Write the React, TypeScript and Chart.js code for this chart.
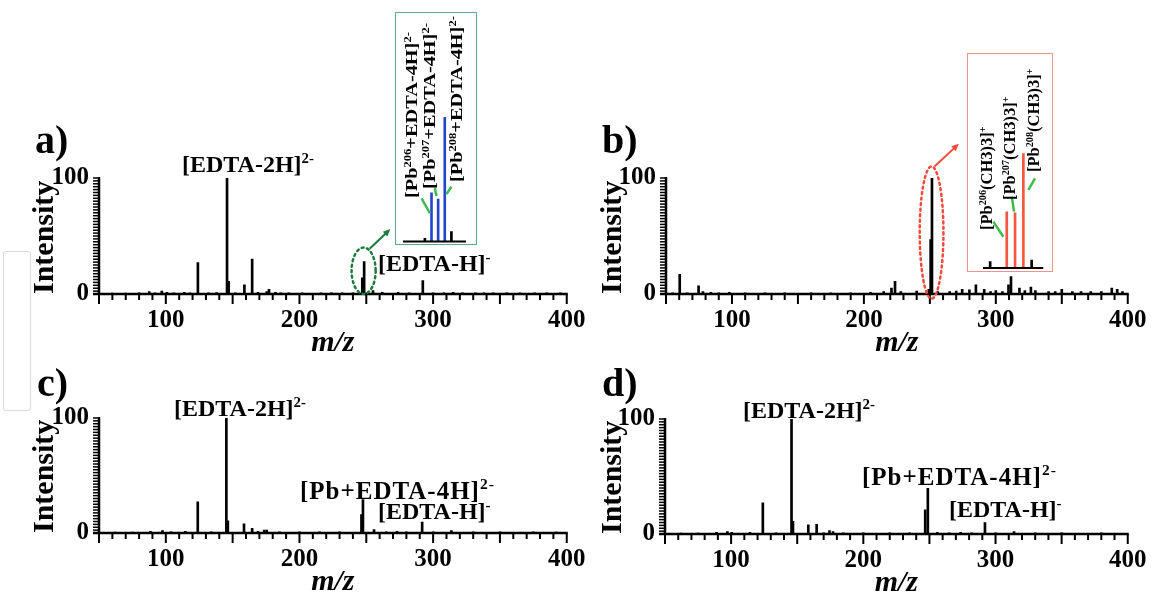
import React, { useEffect, useRef } from 'react';
import { Chart, registerables } from 'chart.js';

Chart.register(...registerables);

const SERIF = '"Liberation Serif", "Times New Roman", Times, serif';

// ---------------- data ----------------
const xTickValues = [100, 200, 300, 400];
const yTickValues = [0, 100];
const xRange = [50, 400];
const yRange = [0, 100];
const xMinorStep = 10;
const xMajorStep = 50;
const yMinorStep = 2.5;

// panel a: m/z, relative intensity
const peaksA: number[][] = [
  [60, 0.8], [70, 0.8], [80, 1], [87.6, 2], [92, 1], [97, 2.5], [100.8, 1.5], [106, 1], [113.8, 1.5], [118, 1],
  [124, 27], [132, 1], [138, 1.2], [145.8, 100], [147, 11], [152, 1], [158.8, 8], [164.6, 30], [169, 1.5], [175.6, 2],
  [177.2, 4], [182, 1.5], [186, 1], [192, 1], [202, 1], [216, 1], [224, 1], [232, 1], [240, 1], [247, 14],
  [248.4, 28], [255, 3], [262, 1.5], [273.8, 1.5], [282, 1], [292.3, 11.5], [300, 1], [308, 1], [315, 1.5], [322, 1],
  [331.7, 1], [338, 1], [345, 1], [355, 1], [365, 1], [375.9, 1], [385, 1], [395, 1],
];

// panel b
const peaksB: number[][] = [
  [55, 1], [60.4, 17], [66, 1], [74.7, 7], [78, 2], [84, 1.5], [90, 1], [98, 1.5], [110, 1], [125, 1],
  [140, 1], [160, 1], [175, 1], [190, 1], [205, 1.5], [215, 2], [220.9, 5], [223.6, 11], [228, 2], [240, 2.5],
  [249.2, 4], [250.6, 47], [251.6, 100], [256, 2], [265, 2], [270, 2.5], [274.5, 4], [280, 3.5], [284.9, 8], [291.2, 4],
  [296, 2], [300, 3], [305, 2], [309.6, 8], [311.5, 15], [317.9, 5], [322, 3], [326.6, 6], [330, 3], [340, 2],
  [345, 2], [350, 4], [358, 2], [364.6, 2], [372, 2], [380, 2], [387.9, 5], [392, 4], [396, 2],
];

// panel c
const peaksC: number[][] = [
  [62, 0.8], [75, 0.8], [88.5, 1.5], [97.5, 2], [104, 1], [114.6, 1.5], [123.9, 27], [134, 1], [145.3, 100], [146.4, 10.6],
  [158.5, 8], [164.6, 4], [169, 1.5], [173.6, 2.5], [175.5, 2.5], [185, 1], [200, 1], [215, 1], [230, 1], [246.4, 16],
  [247.5, 29], [255.8, 3], [265, 1], [273, 1.5], [280, 1], [291.8, 9.5], [300, 1], [313.7, 2], [330, 1], [350, 1],
  [375, 1], [392, 0.8],
];

// panel d
const peaksD: number[][] = [
  [62, 0.8], [75, 0.8], [89, 1.5], [97.2, 2], [100.5, 1.5], [114.3, 1.5], [124, 27], [134, 1], [145.7, 100], [146.8, 11],
  [158.4, 8], [164.7, 8.4], [170, 1], [174.4, 3], [177.1, 2], [185, 1], [200, 1], [220, 1], [235, 1], [246.8, 21],
  [248.8, 39.7], [256, 1.5], [265, 1], [273.6, 1.5], [282, 1], [292, 10], [300, 1], [314, 2], [330, 1], [350, 1],
  [380, 1],
];

// inset a (Pb-EDTA isotope cluster)
const insetMzA = [246.5, 247, 247.5, 248, 248.5];
const insetIntA = [2.5, 39, 34, 100, 8];
const insetIsoA = [false, true, true, true, false];

// inset b (trimethyl lead isotope cluster)
const insetMzB = [249, 251, 252, 253, 254];
const insetIntB = [5.5, 49, 48, 100, 7];
const insetIsoB = [false, true, true, true, false];

// ---------------- layout / style ----------------
const geoA = { left: 0, top: 120, width: 600, height: 250, areaL: 99, areaR: 570, areaT: 178, areaB: 294, yTitleX: 45, tickDy: 27, mzY: 343 };
const geoB = { left: 580, top: 120, width: 581, height: 250, areaL: 666, areaR: 1137, areaT: 178, areaB: 294, yTitleX: 613, tickDy: 27, mzY: 343 };
const geoC = { left: 0, top: 360, width: 600, height: 250, areaL: 99, areaR: 570, areaT: 418, areaB: 533, yTitleX: 45, tickDy: 27, mzY: 582 };
const geoD = { left: 580, top: 360, width: 581, height: 250, areaL: 665, areaR: 1136, areaT: 419, areaB: 534, yTitleX: 613, tickDy: 27, mzY: 583 };

const annotA = { cx: 248, cy: 20, rx: 9, ry: 20, from: [252.5, 39], to: [268, 56], color: '#1d7a3e' };
const annotB = { cx: 251.3, cy: 53, rx: 9, ry: 57, from: [253.5, 110], to: [272, 129.5], color: '#f24b3c' };

const insetGeoA = { left: 395, top: 12, width: 82, height: 233, areaL: 403, areaR: 466, areaT: 117, areaB: 241.5, xMin: 244.85, xMax: 249.6, border: '#5aa98c' };
const insetGeoB = { left: 967, top: 53, width: 86, height: 219, areaL: 983, areaR: 1043.3, areaT: 153.3, areaB: 268, xMin: 248.14, xMax: 255.4, border: '#eb958f' };

const leadersA = [
  [[246.25, 34.7], [246.88, 22.7]],
  [[247.25, 43], [247.38, 36.5]],
  [[248.5, 44], [248.13, 38.2]],
];
const leadersB = [
  [[249.38, 40.4], [250.59, 27.3]],
  [[251.6, 62.2], [251.88, 49.1]],
  [[254.4, 78.2], [253.6, 68]],
];

const BLUE = '#2347c9';
const RED = '#f4573f';
const GREEN = '#3dbb4f';

// ---------------- plugins ----------------
const axesPlugin = {
  id: 'axesDraw',
  afterDatasetsDraw(chart: any) {
    const { ctx } = chart;
    const x = chart.scales.x;
    const y = chart.scales.y;
    const yb = y.getPixelForValue(yRange[0]);
    const yt = y.getPixelForValue(yRange[1]);
    const xl = x.getPixelForValue(xRange[0]);
    const xr = x.getPixelForValue(xRange[1]);
    ctx.save();
    ctx.strokeStyle = '#000';
    ctx.lineWidth = 2;
    for (let v = xRange[0]; v <= xRange[1] + 0.001; v += xMinorStep) {
      const p = x.getPixelForValue(v);
      const len = Math.abs(v % xMajorStep) < 0.001 ? 10 : 6;
      ctx.beginPath();
      ctx.moveTo(p, yb);
      ctx.lineTo(p, yb + len);
      ctx.stroke();
    }
    ctx.lineWidth = 1.5;
    for (let v = yRange[0]; v <= yRange[1] + 0.001; v += yMinorStep) {
      const p = y.getPixelForValue(v);
      ctx.beginPath();
      ctx.moveTo(xl - 6, p);
      ctx.lineTo(xl, p);
      ctx.stroke();
    }
    ctx.lineWidth = 2.5;
    ctx.beginPath();
    ctx.moveTo(xl, yt - 1);
    ctx.lineTo(xl, yb);
    ctx.moveTo(xl - 6, yb);
    ctx.lineTo(xr + 1, yb);
    ctx.stroke();
    ctx.restore();
  },
};

function drawArrow(ctx: CanvasRenderingContext2D, x1: number, y1: number, x2: number, y2: number, color: string) {
  const ang = Math.atan2(y2 - y1, x2 - x1);
  const head = 8;
  ctx.strokeStyle = color;
  ctx.fillStyle = color;
  ctx.lineWidth = 2;
  ctx.beginPath();
  ctx.moveTo(x1, y1);
  ctx.lineTo(x2 - Math.cos(ang) * head * 0.8, y2 - Math.sin(ang) * head * 0.8);
  ctx.stroke();
  ctx.beginPath();
  ctx.moveTo(x2, y2);
  ctx.lineTo(x2 - head * Math.cos(ang - 0.42), y2 - head * Math.sin(ang - 0.42));
  ctx.lineTo(x2 - head * Math.cos(ang + 0.42), y2 - head * Math.sin(ang + 0.42));
  ctx.closePath();
  ctx.fill();
}

function makeAnnotPlugin(a: any) {
  return {
    id: 'annotDraw',
    afterDraw(chart: any) {
      const { ctx } = chart;
      const x = chart.scales.x;
      const y = chart.scales.y;
      const cx = x.getPixelForValue(a.cx);
      const cy = y.getPixelForValue(a.cy);
      const rx = Math.abs(x.getPixelForValue(a.cx + a.rx) - cx);
      const ry = Math.abs(y.getPixelForValue(a.cy + a.ry) - cy);
      ctx.save();
      ctx.strokeStyle = a.color;
      ctx.lineWidth = 2.5;
      ctx.setLineDash([2, 3.5]);
      ctx.lineCap = 'round';
      ctx.beginPath();
      ctx.ellipse(cx, cy, rx, ry, 0, 0, Math.PI * 2);
      ctx.stroke();
      ctx.setLineDash([]);
      ctx.lineCap = 'butt';
      drawArrow(ctx, x.getPixelForValue(a.from[0]), y.getPixelForValue(a.from[1]), x.getPixelForValue(a.to[0]), y.getPixelForValue(a.to[1]), a.color);
      ctx.restore();
    },
  };
}

function makeInsetPlugin(leaders: number[][][]) {
  return {
    id: 'insetDraw',
    afterDatasetsDraw(chart: any) {
      const { ctx, chartArea } = chart;
      const x = chart.scales.x;
      const y = chart.scales.y;
      ctx.save();
      ctx.strokeStyle = '#000';
      ctx.lineWidth = 2;
      ctx.beginPath();
      ctx.moveTo(chartArea.left, chartArea.bottom);
      ctx.lineTo(chartArea.right, chartArea.bottom);
      ctx.stroke();
      ctx.strokeStyle = GREEN;
      ctx.lineWidth = 2.5;
      for (const [p, q] of leaders) {
        ctx.beginPath();
        ctx.moveTo(x.getPixelForValue(p[0]), y.getPixelForValue(p[1]));
        ctx.lineTo(x.getPixelForValue(q[0]), y.getPixelForValue(q[1]));
        ctx.stroke();
      }
      ctx.restore();
    },
  };
}

function buildPanelConfig(peaks: number[][], geo: any, annot: any) {
  const padTop = geo.areaT - geo.top;
  const padRight = geo.left + geo.width - geo.areaR;
  const yWidth = geo.areaL - geo.left;
  const xHeight = geo.top + geo.height - geo.areaB;
  const tickSize = 25;
  const titleSize = 30;
  const plugins: any[] = [axesPlugin];
  if (annot) plugins.push(makeAnnotPlugin(annot));
  return {
    type: 'bar',
    data: {
      datasets: [
        {
          data: peaks.map(([mz, v]) => ({ x: mz, y: v })),
          backgroundColor: '#000',
          borderWidth: 0,
          barThickness: 2,
        },
      ],
    },
    options: {
      animation: false,
      responsive: false,
      maintainAspectRatio: false,
      events: [],
      layout: { padding: { left: 0, top: padTop, right: padRight, bottom: 0 } },
      plugins: { legend: { display: false }, tooltip: { enabled: false } },
      scales: {
        x: {
          type: 'linear',
          min: xRange[0],
          max: xRange[1],
          offset: false,
          grid: { display: false, drawTicks: false, offset: false },
          border: { display: false },
          afterBuildTicks: (s: any) => {
            s.ticks = xTickValues.map((v) => ({ value: v }));
          },
          afterFit: (s: any) => {
            s.height = xHeight;
          },
          ticks: {
            color: '#000',
            font: { family: SERIF, size: tickSize, weight: 'bold', lineHeight: 1 },
            padding: geo.tickDy - tickSize / 2,
            autoSkip: false,
            maxRotation: 0,
            minRotation: 0,
          },
          title: {
            display: true,
            text: 'm/z',
            color: '#000',
            font: { family: SERIF, size: titleSize, weight: 'bold', style: 'italic', lineHeight: 1 },
            padding: { top: 0, bottom: geo.top + geo.height - geo.mzY - titleSize / 2 },
          },
        },
        y: {
          min: yRange[0],
          max: yRange[1],
          grid: { display: false, drawTicks: false },
          border: { display: false },
          afterBuildTicks: (s: any) => {
            s.ticks = yTickValues.map((v) => ({ value: v }));
          },
          afterFit: (s: any) => {
            s.width = yWidth;
          },
          ticks: {
            color: '#000',
            font: { family: SERIF, size: tickSize, weight: 'bold', lineHeight: 1 },
            padding: 10,
            autoSkip: false,
          },
          title: {
            display: true,
            text: 'Intensity',
            align: 'start',
            color: '#000',
            font: { family: SERIF, size: titleSize, weight: 'bold', lineHeight: 1 },
            padding: { top: geo.yTitleX - geo.left - titleSize / 2, bottom: 0 },
          },
        },
      },
    },
    plugins,
  };
}

function buildInsetConfig(mz: number[], inten: number[], iso: boolean[], isoColor: string, geo: any, leaders: number[][][]) {
  return {
    type: 'bar',
    data: {
      datasets: [
        {
          data: mz.map((m, i) => ({ x: m, y: inten[i] })),
          backgroundColor: iso.map((b) => (b ? isoColor : '#000')),
          borderWidth: 0,
          barThickness: 2,
        },
      ],
    },
    options: {
      animation: false,
      responsive: false,
      maintainAspectRatio: false,
      events: [],
      layout: {
        padding: {
          left: geo.areaL - geo.left,
          right: geo.left + geo.width - geo.areaR,
          top: geo.areaT - geo.top,
          bottom: geo.top + geo.height - geo.areaB,
        },
      },
      plugins: { legend: { display: false }, tooltip: { enabled: false } },
      scales: {
        x: { type: 'linear', display: false, min: geo.xMin, max: geo.xMax, offset: false, grid: { offset: false } },
        y: { display: false, min: 0, max: 100 },
      },
    },
    plugins: [makeInsetPlugin(leaders)],
  };
}

// ---------------- components ----------------
function ChartCanvas({ config, geo }: { config: any; geo: any }) {
  const ref = useRef<HTMLCanvasElement>(null);
  useEffect(() => {
    const chart = new Chart(ref.current as HTMLCanvasElement, config);
    return () => chart.destroy();
  }, []);
  return (
    <canvas
      ref={ref}
      width={geo.width}
      height={geo.height}
      style={{ position: 'absolute', left: geo.left, top: geo.top, width: geo.width, height: geo.height }}
    />
  );
}

function Inset({ geo, config }: { geo: any; config: any }) {
  return (
    <>
      <div
        style={{
          position: 'absolute',
          left: geo.left,
          top: geo.top,
          width: geo.width,
          height: geo.height,
          boxSizing: 'border-box',
          border: `1.5px solid ${geo.border}`,
          background: '#fff',
        }}
      />
      <ChartCanvas geo={geo} config={config} />
    </>
  );
}

function Sup({ children }: { children: any }) {
  return <span style={{ fontSize: '0.62em', position: 'relative', top: '-0.62em', lineHeight: 0 }}>{children}</span>;
}

function Txt({ x, base, size, spacing, children }: { x: number; base: number; size: number; spacing?: number; children: any }) {
  return (
    <div
      style={{
        position: 'absolute',
        left: x,
        top: base - 0.8375 * size,
        fontFamily: SERIF,
        fontWeight: 'bold',
        fontSize: size,
        lineHeight: `${size}px`,
        letterSpacing: spacing ? `${spacing}px` : undefined,
        whiteSpace: 'nowrap',
        color: '#000',
      }}
    >
      {children}
    </div>
  );
}

function RotTxt({ cx, bottom, size, stretch, children }: { cx: number; bottom: number; size: number; stretch: number; children: any }) {
  return (
    <div
      style={{
        position: 'absolute',
        left: cx - size * 0.5,
        top: bottom,
        fontFamily: SERIF,
        fontWeight: 'bold',
        fontSize: size,
        lineHeight: `${size}px`,
        whiteSpace: 'nowrap',
        color: '#000',
        transformOrigin: '0 0',
        transform: `rotate(-90deg) scaleX(${stretch})`,
      }}
    >
      {children}
    </div>
  );
}

export default function App() {
  const LBL = 24;
  const LET = 40;
  return (
    <div style={{ position: 'absolute', left: 0, top: 0, width: 1161, height: 596, overflow: 'hidden', background: '#fff' }}>
      <div style={{ position: 'absolute', left: 3, top: 251, width: 26, height: 158, border: '1px solid #dadada', borderRadius: 3, boxShadow: '0 0 2px rgba(0,0,0,0.06)' }} />

      <ChartCanvas geo={geoA} config={buildPanelConfig(peaksA, geoA, annotA)} />
      <ChartCanvas geo={geoB} config={buildPanelConfig(peaksB, geoB, annotB)} />
      <ChartCanvas geo={geoC} config={buildPanelConfig(peaksC, geoC, null)} />
      <ChartCanvas geo={geoD} config={buildPanelConfig(peaksD, geoD, null)} />

      <Inset geo={insetGeoA} config={buildInsetConfig(insetMzA, insetIntA, insetIsoA, BLUE, insetGeoA, leadersA)} />
      <Inset geo={insetGeoB} config={buildInsetConfig(insetMzB, insetIntB, insetIsoB, RED, insetGeoB, leadersB)} />

      <Txt x={35} base={153} size={LET}>a)</Txt>
      <Txt x={602} base={153} size={LET}>b)</Txt>
      <Txt x={37} base={396} size={LET}>c)</Txt>
      <Txt x={602} base={396} size={LET}>d)</Txt>

      <Txt x={182} base={172} size={LBL}>[EDTA-2H]<Sup>2-</Sup></Txt>
      <Txt x={378} base={271} size={LBL}>[EDTA-H]<Sup>-</Sup></Txt>

      <Txt x={174} base={416} size={LBL}>[EDTA-2H]<Sup>2-</Sup></Txt>
      <Txt x={300} base={499} size={25} spacing={1}>[Pb+EDTA-4H]<Sup>2-</Sup></Txt>
      <Txt x={378} base={519} size={LBL}>[EDTA-H]<Sup>-</Sup></Txt>

      <Txt x={743} base={418} size={LBL}>[EDTA-2H]<Sup>2-</Sup></Txt>
      <Txt x={862} base={485} size={25} spacing={1}>[Pb+EDTA-4H]<Sup>2-</Sup></Txt>
      <Txt x={949} base={517} size={LBL}>[EDTA-H]<Sup>-</Sup></Txt>

      <RotTxt cx={411.5} bottom={198} size={16} stretch={1.27}>[Pb<Sup>206</Sup>+EDTA-4H]<Sup>2-</Sup></RotTxt>
      <RotTxt cx={430} bottom={189} size={16} stretch={1.27}>[Pb<Sup>207</Sup>+EDTA-4H]<Sup>2-</Sup></RotTxt>
      <RotTxt cx={456.7} bottom={182} size={16} stretch={1.27}>[Pb<Sup>208</Sup>+EDTA-4H]<Sup>2-</Sup></RotTxt>

      <RotTxt cx={986.5} bottom={230} size={16} stretch={1.03}>[Pb<Sup>206</Sup>(CH3)3]<Sup>+</Sup></RotTxt>
      <RotTxt cx={1010} bottom={200} size={16} stretch={1.03}>[Pb<Sup>207</Sup>(CH3)3]<Sup>+</Sup></RotTxt>
      <RotTxt cx={1034} bottom={172} size={16} stretch={1.03}>[Pb<Sup>208</Sup>(CH3)3]<Sup>+</Sup></RotTxt>
    </div>
  );
}
